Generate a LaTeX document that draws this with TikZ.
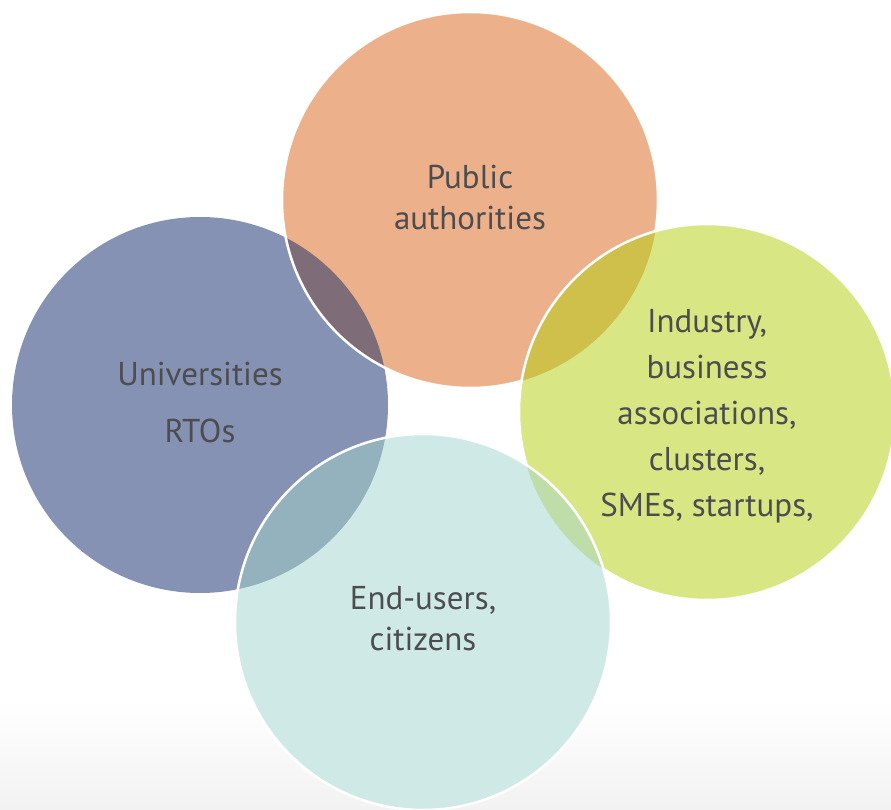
\documentclass[tikz,border=0pt]{standalone}
\usepackage{fontspec}
\setmainfont{PT Sans}
\definecolor{cOrange}{HTML}{ECB08A}
\definecolor{cBlue}{HTML}{8592B3}
\definecolor{cGreen}{HTML}{D8E784}
\definecolor{cTeal}{HTML}{CFE9E6}
\definecolor{cOB}{HTML}{7F6C79}
\definecolor{cOG}{HTML}{CFC04B}
\definecolor{cBT}{HTML}{93B2BE}
\definecolor{cGT}{HTML}{BEDDA8}
\definecolor{cText}{HTML}{4D4D4F}
\definecolor{cFloor}{HTML}{F2F2F2}
\begin{document}
\begin{tikzpicture}[x=1pt,y=-1pt,
  rim/.style={draw=white,line width=2.5pt},
  lbl/.style={align=center,text=cText,font=\fontsize{33}{41}\selectfont,inner sep=0pt}]
\useasboundingbox (0,0) rectangle (891,810);
\clip (0,0) rectangle (891,810);
\fill[white] (0,0) rectangle (891,700);
\shade[top color=white,bottom color=cFloor] (0,700) rectangle (891,810);
\coordinate (cb) at (200,405);
\coordinate (co) at (470,200);
\coordinate (cg) at (707,412);
\coordinate (ct) at (423,622);
\def\R{188}
% blue
\fill[cBlue] (cb) circle (\R);
% orange
\fill[cOrange] (co) circle (\R);
\begin{scope}
  \clip (co) circle (\R);
  \fill[cOB] (cb) circle (\R);
\end{scope}
\draw[rim] (co) circle (\R);
% green
\fill[cGreen] (cg) circle (\R);
\begin{scope}
  \clip (cg) circle (\R);
  \fill[cOG] (co) circle (\R);
\end{scope}
\draw[rim] (cg) circle (\R);
% teal
\fill[cTeal] (ct) circle (\R);
\begin{scope}
  \clip (ct) circle (\R);
  \fill[cBT] (cb) circle (\R);
  \fill[cGT] (cg) circle (\R);
\end{scope}
\draw[rim] (ct) circle (\R);
% labels
\node[lbl] (tpa) at (470,198) {Public\\authorities};
\node[lbl] (tun) at (200,403) {Universities\\[16pt]RTOs};
\node[lbl,font=\fontsize{33}{46}\selectfont] (tin) at (707,416) {Industry,\\business\\associations,\\clusters,\\SMEs, startups,};
\node[lbl] (teu) at (423,619) {End-users,\\citizens};
\end{tikzpicture}
\end{document}
